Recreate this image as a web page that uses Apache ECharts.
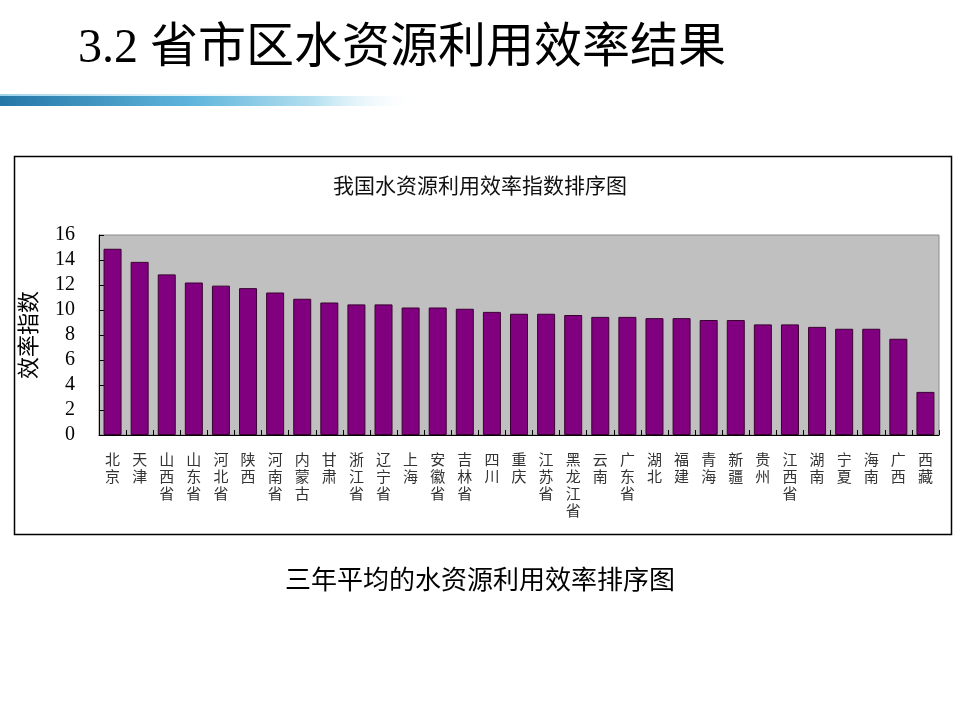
<!DOCTYPE html>
<html><head><meta charset="utf-8">
<script src="https://cdn.jsdelivr.net/npm/echarts@6/dist/echarts.min.js"></script>
<style>html,body{margin:0;padding:0;background:#fff}#c{width:960px;height:720px}</style>
</head><body><div id="c"></div>
<script>
const pageTitle = '3.2 省市区水资源利用效率结果';
const chartTitle = '我国水资源利用效率指数排序图';
const caption = '三年平均的水资源利用效率排序图';
const yAxisName = '效率指数';
const provinces = ['北京','天津','山西省','山东省','河北省','陕西','河南省','内蒙古','甘肃','浙江省','辽宁省','上海','安徽省','吉林省','四川','重庆','江苏省','黑龙江省','云南','广东省','湖北','福建','青海','新疆','贵州','江西省','湖南','宁夏','海南','广西','西藏'];
const efficiency = [14.9,13.85,12.85,12.2,11.95,11.75,11.4,10.9,10.6,10.45,10.45,10.2,10.2,10.1,9.85,9.7,9.7,9.6,9.45,9.45,9.35,9.35,9.2,9.2,8.85,8.85,8.65,8.5,8.5,7.7,3.45];
const yTicks = [0,2,4,6,8,10,12,14,16];

const chart = echarts.init(document.getElementById('c'));
const cjk = '"Noto Sans CJK SC", sans-serif';
const serif = '"Liberation Serif", "Noto Sans CJK SC", serif';
chart.setOption({
  backgroundColor: '#ffffff',
  animation: false,
  title: [
    {text: pageTitle, left: 73, top: 20, textStyle: {fontFamily: serif, fontSize: 48, fontWeight: 'normal', color: '#000'}},
    {text: chartTitle, left: 'center', top: 170, textStyle: {fontFamily: cjk, fontSize: 21, fontWeight: 'normal', color: '#111'}},
    {text: caption, left: 'center', top: 561, textStyle: {fontFamily: cjk, fontSize: 26, fontWeight: 'normal', color: '#000'}}
  ],
  graphic: [
    {type: 'rect', shape: {x: 0, y: 96, width: 420, height: 10}, style: {fill: new echarts.graphic.LinearGradient(0,0,1,0,[{offset:0,color:'#2577a6'},{offset:0.45,color:'#5db4db'},{offset:0.75,color:'#b5e0f0'},{offset:1,color:'rgba(255,255,255,0)'}])}, z: -1},
    {type: 'rect', shape: {x: 0, y: 94, width: 380, height: 2}, style: {fill: new echarts.graphic.LinearGradient(0,0,1,0,[{offset:0,color:'#9fd3ea'},{offset:1,color:'rgba(255,255,255,0)'}])}, z: -1},
    {type: 'rect', shape: {x: 14.5, y: 156.5, width: 937, height: 378}, style: {fill: 'none', stroke: '#000', lineWidth: 1.5}, z: -1}
  ],
  grid: {left: 99, right: 21, top: 235, bottom: 285, show: true, backgroundColor: '#c0c0c0', borderColor: '#8a8a8a', borderWidth: 1},
  xAxis: {
    type: 'category', data: provinces,
    axisLine: {lineStyle: {color: '#000', width: 1}},
    axisTick: {show: true, inside: true, length: 5, alignWithLabel: false, lineStyle: {color: '#000'}},
    axisLabel: {interval: 0, margin: 16, fontFamily: cjk, fontSize: 15, lineHeight: 17, color: '#333', verticalAlign: 'top',
      formatter: v => v.split('').join('\n')}
  },
  yAxis: {
    type: 'value', min: 0, max: 16, interval: 2,
    name: yAxisName, nameLocation: 'middle', nameRotate: 90, nameGap: 60,
    nameTextStyle: {fontFamily: cjk, fontSize: 22, color: '#000', letterSpacing: 2},
    axisLine: {show: true, lineStyle: {color: '#000', width: 1}},
    axisTick: {show: true, inside: true, length: 5, lineStyle: {color: '#000'}},
    splitLine: {show: false},
    axisLabel: {margin: 24, fontFamily: serif, fontSize: 20, color: '#000',
      formatter: v => yTicks.includes(v) ? String(v) : ''}
  },
  series: [{
    type: 'bar', data: efficiency, barWidth: 18,
    itemStyle: {color: '#800080', borderColor: '#3a0030', borderWidth: 1}
  }]
});
</script></body></html>
